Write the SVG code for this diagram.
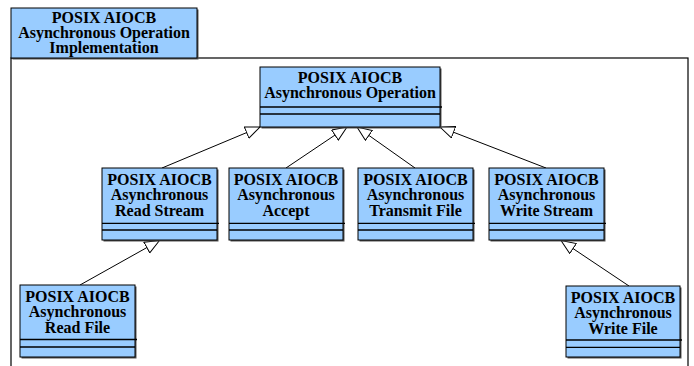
<svg xmlns="http://www.w3.org/2000/svg" width="694" height="366" viewBox="0 0 694 366">
  <style>
    .box { fill: #99ccff; stroke: #000; stroke-width: 1; }
    .shadow { fill: #555; }
    .sep { stroke: #000; stroke-width: 1.3; }
    .lbl { font-family: "Liberation Serif", "Times New Roman", serif; font-weight: bold; font-size: 16px; text-anchor: middle; fill: #000; }
    .edge { stroke: #000; stroke-width: 1; fill: none; marker-end: url(#gen); }
  </style>
  <defs>
    <marker id="gen" markerUnits="userSpaceOnUse" markerWidth="16" markerHeight="14" refX="15" refY="6.5" orient="auto">
      <path d="M0.5,0.5 L15,6.5 L0.5,12.5 Z" fill="#fff" stroke="#000" stroke-width="1"/>
    </marker>
  </defs>

  <rect width="694" height="366" fill="#fff"/>

  <!-- package frame -->
  <g id="package">
    <rect x="11" y="58" width="677" height="320" fill="#fff" stroke="#000" stroke-width="1.2"/>
    <rect class="shadow" x="12.5" y="9.5" width="186" height="50"/>
    <rect class="box" x="11" y="8" width="186" height="50"/>
    <text class="lbl" x="104" y="23.3">POSIX AIOCB</text>
    <text class="lbl" x="104" y="38.3">Asynchronous Operation</text>
    <text class="lbl" x="104" y="53.3">Implementation</text>
  </g>

  <!-- connectors -->
  <g id="connectors">
    <line class="edge" x1="162" y1="168" x2="260" y2="127"/>
    <line class="edge" x1="286" y1="168" x2="347" y2="127"/>
    <line class="edge" x1="415" y1="168" x2="357" y2="127"/>
    <line class="edge" x1="546" y1="168" x2="440" y2="127"/>
    <line class="edge" x1="80" y1="285" x2="159.5" y2="240.5"/>
    <line class="edge" x1="629" y1="286" x2="561" y2="240.5"/>
  </g>

  <g id="async-operation">
    <rect class="shadow" x="261.5" y="68.5" width="180" height="60"/>
    <rect class="box" x="260" y="67" width="180" height="60"/>
    <text class="lbl" x="350" y="83">POSIX AIOCB</text>
    <text class="lbl" x="350" y="97.5">Asynchronous Operation</text>
    <line class="sep" x1="260" y1="107" x2="442" y2="107"/>
    <line class="sep" x1="260" y1="114" x2="440" y2="114"/>
  </g>

  <g id="read-stream">
    <rect class="shadow" x="103.5" y="169.5" width="115" height="72"/>
    <rect class="box" x="102" y="168" width="115" height="72"/>
    <text class="lbl" x="159.5" y="184.5">POSIX AIOCB</text>
    <text class="lbl" x="159.5" y="200">Asynchronous</text>
    <text class="lbl" x="159.5" y="215.7">Read Stream</text>
    <line class="sep" x1="102" y1="223.3" x2="219" y2="223.3"/>
    <line class="sep" x1="102" y1="230" x2="217" y2="230"/>
  </g>

  <g id="accept">
    <rect class="shadow" x="230.5" y="169.5" width="114" height="72"/>
    <rect class="box" x="229" y="168" width="114" height="72"/>
    <text class="lbl" x="286" y="184.5">POSIX AIOCB</text>
    <text class="lbl" x="286" y="200">Asynchronous</text>
    <text class="lbl" x="286" y="215.7">Accept</text>
    <line class="sep" x1="229" y1="223.3" x2="345" y2="223.3"/>
    <line class="sep" x1="229" y1="230" x2="343" y2="230"/>
  </g>

  <g id="transmit-file">
    <rect class="shadow" x="359.5" y="169.5" width="115" height="72"/>
    <rect class="box" x="358" y="168" width="115" height="72"/>
    <text class="lbl" x="415.5" y="184.5">POSIX AIOCB</text>
    <text class="lbl" x="415.5" y="200">Asynchronous</text>
    <text class="lbl" x="415.5" y="215.7">Transmit File</text>
    <line class="sep" x1="358" y1="223.3" x2="475" y2="223.3"/>
    <line class="sep" x1="358" y1="230" x2="473" y2="230"/>
  </g>

  <g id="write-stream">
    <rect class="shadow" x="490.5" y="169.5" width="115" height="72"/>
    <rect class="box" x="489" y="168" width="115" height="72"/>
    <text class="lbl" x="546.5" y="184.5">POSIX AIOCB</text>
    <text class="lbl" x="546.5" y="200">Asynchronous</text>
    <text class="lbl" x="546.5" y="215.7">Write Stream</text>
    <line class="sep" x1="489" y1="223.3" x2="606" y2="223.3"/>
    <line class="sep" x1="489" y1="230" x2="604" y2="230"/>
  </g>

  <g id="read-file">
    <rect class="shadow" x="21.5" y="286.5" width="115" height="72"/>
    <rect class="box" x="20" y="285" width="115" height="72"/>
    <text class="lbl" x="77.5" y="301.5">POSIX AIOCB</text>
    <text class="lbl" x="77.5" y="317">Asynchronous</text>
    <text class="lbl" x="77.5" y="332.7">Read File</text>
    <line class="sep" x1="20" y1="339.5" x2="137" y2="339.5"/>
    <line class="sep" x1="20" y1="347" x2="135" y2="347"/>
  </g>

  <g id="write-file">
    <rect class="shadow" x="567.5" y="287.5" width="114" height="71"/>
    <rect class="box" x="566" y="286" width="114" height="71"/>
    <text class="lbl" x="623" y="302.5">POSIX AIOCB</text>
    <text class="lbl" x="623" y="318">Asynchronous</text>
    <text class="lbl" x="623" y="333.5">Write File</text>
    <line class="sep" x1="566" y1="340" x2="682" y2="340"/>
    <line class="sep" x1="566" y1="347.3" x2="680" y2="347.3"/>
  </g>
</svg>
